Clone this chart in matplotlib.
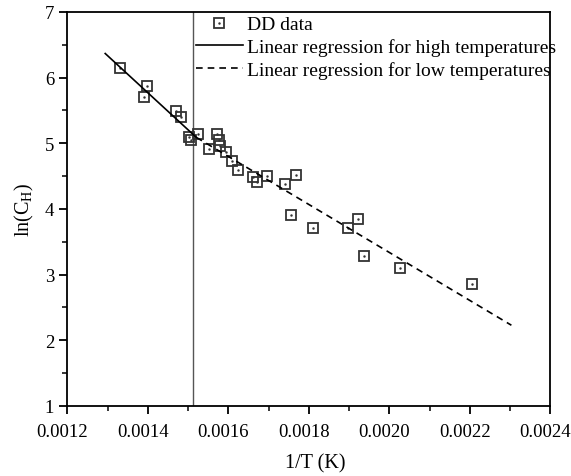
import matplotlib
matplotlib.use("Agg")
import matplotlib.pyplot as plt
import matplotlib.transforms as mtransforms
from matplotlib.ticker import MultipleLocator, FormatStrFormatter
from matplotlib.legend_handler import HandlerTuple

plt.rcParams['font.family'] = ['Liberation Serif', 'DejaVu Serif']
plt.rcParams['mathtext.fontset'] = 'custom'
plt.rcParams['mathtext.rm'] = 'Liberation Serif'
plt.rcParams['mathtext.it'] = 'Liberation Serif:italic'

# DD data (1/T, ln(C_H))
inv_T = [0.001331, 0.001399, 0.001391, 0.001469, 0.001483, 0.001502, 0.001508,
         0.001525, 0.001571, 0.001577, 0.001580, 0.001552, 0.001593, 0.001609,
         0.001623, 0.001660, 0.001672, 0.001695, 0.001740, 0.001768, 0.001755,
         0.001809, 0.001897, 0.001923, 0.001936, 0.002027, 0.002204]
ln_CH = [6.149, 5.865, 5.702, 5.495, 5.394, 5.100, 5.049,
         5.140, 5.140, 5.049, 4.962, 4.906, 4.862, 4.730,
         4.593, 4.492, 4.416, 4.501, 4.386, 4.512, 3.904,
         3.707, 3.707, 3.843, 3.277, 3.099, 2.851]

# regression lines (end points)
high_x = [0.001294, 0.001520]
high_y = [6.366, 5.090]
low_x = [0.001520, 0.002303]
low_y = [5.090, 2.228]

# transition temperature marker
split_x = 0.001511

fig = plt.figure(figsize=(5.71, 4.77), dpi=100)
ax = fig.add_axes([0.118, 0.147, 0.846, 0.826])

ax.axvline(split_x, color='#555555', lw=1.0)
sq, = ax.plot(inv_T, ln_CH, ls='none', marker='s', ms=7.5, mfc='none',
              mec='#333333', mew=1.3)
dot, = ax.plot(inv_T, ln_CH, ls='none', marker='.', ms=1.5, color='#333333')
hl, = ax.plot(high_x, high_y, color='black', lw=1.2)
ll, = ax.plot(low_x, low_y, color='black', lw=1.2, ls=(0, (4, 3)))

ax.set_xlim(0.0012, 0.0024)
ax.set_ylim(1, 7)
ax.xaxis.set_major_locator(MultipleLocator(0.0002))
ax.xaxis.set_minor_locator(MultipleLocator(0.0001))
ax.xaxis.set_major_formatter(FormatStrFormatter('%.4f'))
ax.yaxis.set_major_locator(MultipleLocator(1))
ax.yaxis.set_minor_locator(MultipleLocator(0.5))
ax.tick_params(which='major', direction='out', length=6, width=1.3, labelsize=13.5,
               top=False, right=False)
ax.tick_params(axis='x', which='major', pad=6)
ax.tick_params(which='minor', direction='out', length=3.5, width=1.1,
               top=False, right=False)
for s in ax.spines.values():
    s.set_linewidth(1.3)

# x tick labels sit slightly left of their ticks in the reference
offset = mtransforms.ScaledTranslation(-5 / 100, 0, fig.dpi_scale_trans)
for lab in ax.get_xticklabels():
    lab.set_transform(lab.get_transform() + offset)

ax.set_xlabel('1/T (K)', fontsize=14.5, labelpad=8)
ax.xaxis.set_label_coords(0.513, -0.12)
ax.set_ylabel(r'ln(C$_\mathrm{H}$)', fontsize=14.5, labelpad=6)

ax.legend([(sq, dot), hl, ll],
          ['DD data', 'Linear regression for high temperatures',
           'Linear regression for low temperatures'],
          handler_map={tuple: HandlerTuple(ndivide=1, pad=0)},
          loc='upper right', bbox_to_anchor=(1.015, 0.995), frameon=False,
          fontsize=14, handlelength=2.4, handletextpad=0.2, labelspacing=0.25,
          borderaxespad=0, borderpad=0.1)

fig.savefig('out.png', dpi=100)
